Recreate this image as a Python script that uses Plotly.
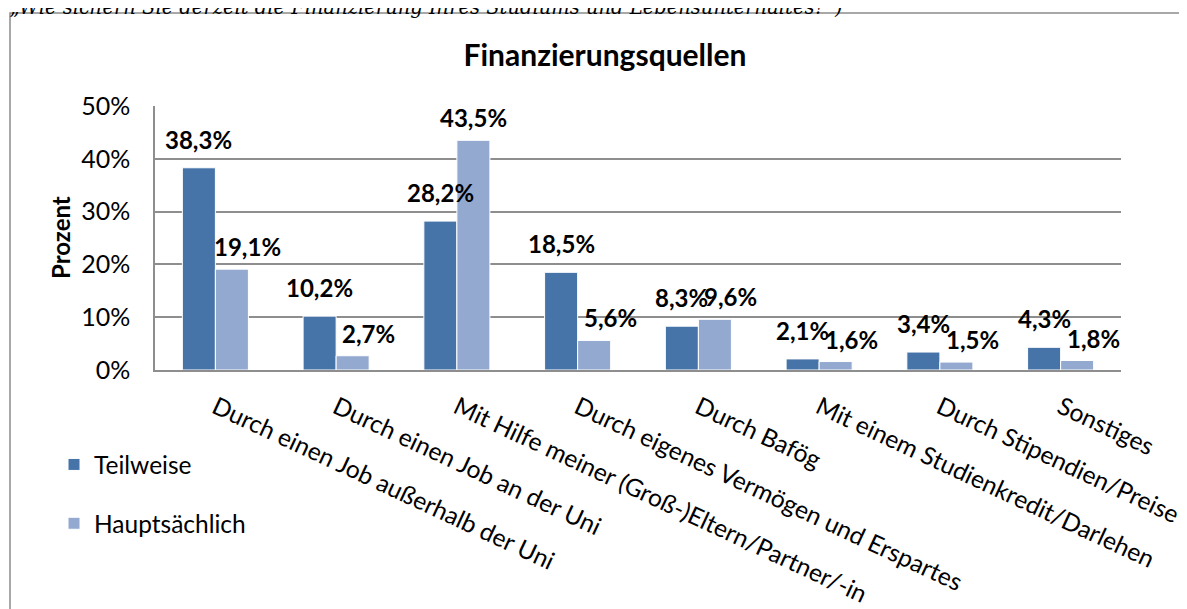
import numpy as np
import plotly.graph_objects as go

categories = [
    "Durch einen Job außerhalb der Uni",
    "Durch einen Job an der Uni",
    "Mit Hilfe meiner (Groß-)Eltern/Partner/-in",
    "Durch eigenes Vermögen und Erspartes",
    "Durch Bafög",
    "Mit einem Studienkredit/Darlehen",
    "Durch Stipendien/Preise",
    "Sonstiges",
]
teilweise = [38.3, 10.2, 28.2, 18.5, 8.3, 2.1, 3.4, 4.3]
hauptsaechlich = [19.1, 2.7, 43.5, 5.6, 9.6, 1.6, 1.5, 1.8]
y_ticks = [0, 10, 20, 30, 40, 50]
y_ticktext = ["0%", "10%", "20%", "30%", "40%", "50%"]

title = "Finanzierungsquellen"
question = "(„Wie sichern Sie derzeit die Finanzierung Ihres Studiums und Lebensunterhaltes?“)"

FONT = "Lato"
C_T = "#4673A8"
C_H = "#93A9D0"
GRID = "#8e8e8e"

W, H = 1187, 609
OFF = 8  # the page body margin shifts the figure by this much
ML, MR, MT, MB = 147, 74, 98, 247
plot_w = W - ML - MR
plot_h = H - MT - MB
BARGAP = 0.453
bar_w = (1 - BARGAP) / 2  # width of one bar in category units

x = np.arange(len(categories))


def px_x(sx):
    # screen pixel -> paper x
    return (sx - OFF - ML) / plot_w


def px_y(sy):
    # screen pixel -> paper y
    return (H - MB - (sy - OFF)) / plot_h


def fmt(v):
    return f"{v:.1f}".replace(".", ",") + "%"


fig = go.Figure()
fig.add_trace(go.Bar(
    x=x, y=teilweise, name="Teilweise", legendgroup="t",
    marker=dict(color=C_T, line=dict(color="white", width=1)),
))
fig.add_trace(go.Bar(
    x=x, y=hauptsaechlich, name="Hauptsächlich", legendgroup="h",
    marker=dict(color=C_H, line=dict(color="white", width=1)),
))

# data labels, placed like the Excel ones
labels = []
for i in range(len(categories)):
    labels.append(dict(
        x=x[i] - bar_w / 2, y=teilweise[i], text=fmt(teilweise[i]),
        xref="x", yref="y", showarrow=False, yanchor="bottom", yshift=12,
    ))
    # the light label is nudged right unless it is well clear of the dark bar
    shift = 0 if hauptsaechlich[i] > teilweise[i] + 10 else 16
    labels.append(dict(
        x=x[i] + bar_w / 2, y=hauptsaechlich[i], text=fmt(hauptsaechlich[i]),
        xref="x", yref="y", showarrow=False, yanchor="bottom", yshift=6, xshift=shift,
    ))
for a in labels:
    a["font"] = dict(family=FONT, size=24, color="black", weight="bold")

# question line cut off at the top of the page
labels.append(dict(
    x=px_x(0), y=px_y(7), xref="paper", yref="paper",
    xanchor="left", yanchor="middle", showarrow=False, text="<i>" + question + "</i>",
    font=dict(family="DejaVu Serif", size=19.5, color="black"),
))
# y axis title
labels.append(dict(
    x=px_x(60), y=px_y(238), xref="paper", yref="paper", textangle=-90,
    xanchor="center", yanchor="middle", showarrow=False, text="<b>Prozent</b>",
    font=dict(family=FONT, size=24, color="black"),
))

fig.update_layout(
    width=W, height=H,
    margin=dict(l=ML, r=MR, t=MT, b=MB, autoexpand=False),
    paper_bgcolor="white", plot_bgcolor="white",
    font=dict(family=FONT, size=25, color="black"),
    barmode="group", bargap=BARGAP, bargroupgap=0,
    title=dict(text="<b>" + title + "</b>", x=(605 - OFF) / W, xanchor="center",
               y=1 - (55 - OFF) / H, yanchor="middle", font=dict(size=30)),
    showlegend=True,
    legend=dict(xref="container", yref="container", x=46 / W, y=1 - 434 / H,
                xanchor="left", yanchor="top", tracegroupgap=24,
                font=dict(size=24.5), bgcolor="rgba(0,0,0,0)"),
    annotations=labels,
    shapes=[dict(type="rect", xref="paper", yref="paper",
                 x0=px_x(10), x1=px_x(W + 20),
                 y0=px_y(H + 20), y1=px_y(13),
                 line=dict(color="#8c8c8c", width=1.5), layer="below")],
)
fig.update_xaxes(
    tickvals=x, ticktext=categories, tickangle=25, range=[-0.5, len(categories) - 0.5],
    showgrid=False, showline=True, linecolor=GRID, linewidth=1.5,
    ticks="", tickfont=dict(size=24.6), ticklabelstandoff=12, automargin=False,
)
fig.update_yaxes(
    range=[0, 50], tickvals=y_ticks, ticktext=y_ticktext,
    showgrid=True, gridcolor=GRID, gridwidth=1.5,
    showline=True, linecolor=GRID, linewidth=1.5,
    zeroline=False, ticks="", ticklabelstandoff=18, tickfont=dict(size=25),
    automargin=False,
)

fig.write_html("out.html")
